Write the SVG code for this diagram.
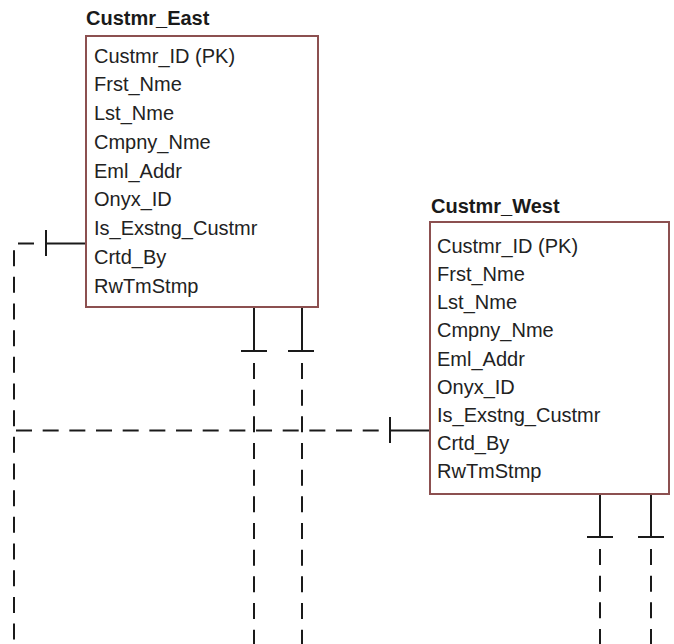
<svg xmlns="http://www.w3.org/2000/svg" width="674" height="644" viewBox="0 0 674 644">
<style>
.box{fill:#fff;stroke:#8c5050;stroke-width:2}
.title{font-family:"Liberation Sans",Arial,sans-serif;font-size:20px;font-weight:bold;fill:#1a1a1a}
.attr{font-family:"Liberation Sans",Arial,sans-serif;font-size:20px;fill:#222}
.solid{fill:none;stroke:#1a1a1a;stroke-width:2}
.dash{fill:none;stroke:#1a1a1a;stroke-width:2;stroke-dasharray:16 10.67}
</style>
<rect width="674" height="644" fill="#fff"/>
<g id="connectors">
  <!-- East left -> West left -->
  <path class="solid" d="M86,243.5 H46 M46,230 V256"/>
  <path class="dash" d="M34,243.5 H14 V644"/>
  <path class="dash" d="M16,430.5 H390"/>
  <path class="solid" d="M390,430.5 H430 M390,417 V443"/>
  <!-- East bottom -->
  <path class="solid" d="M254,307 V351 M241,351 H267"/>
  <path class="dash" d="M254,363 V644"/>
  <path class="solid" d="M302,307 V351 M288,351 H314"/>
  <path class="dash" d="M302,363 V644"/>
  <!-- West bottom -->
  <path class="solid" d="M600,494 V537 M587,537 H613"/>
  <path class="dash" d="M600,549 V644"/>
  <path class="solid" d="M651,494 V537 M638,537 H664"/>
  <path class="dash" d="M651,549 V644"/>
</g>
<g id="Custmr_East">
  <text class="title" x="86" y="25">Custmr_East</text>
  <rect class="box" x="86" y="36" width="232" height="271"/>
  <text class="attr" x="94" y="62.5">Custmr_ID (PK)</text>
  <text class="attr" x="94" y="91.3">Frst_Nme</text>
  <text class="attr" x="94" y="120">Lst_Nme</text>
  <text class="attr" x="94" y="148.8">Cmpny_Nme</text>
  <text class="attr" x="94" y="177.5">Eml_Addr</text>
  <text class="attr" x="94" y="206.3">Onyx_ID</text>
  <text class="attr" x="94" y="235">Is_Exstng_Custmr</text>
  <text class="attr" x="94" y="263.8">Crtd_By</text>
  <text class="attr" x="94" y="292.5">RwTmStmp</text>
</g>
<g id="Custmr_West">
  <text class="title" x="431" y="213">Custmr_West</text>
  <rect class="box" x="430" y="222" width="239" height="272"/>
  <text class="attr" x="437" y="252.7">Custmr_ID (PK)</text>
  <text class="attr" x="437" y="280.9">Frst_Nme</text>
  <text class="attr" x="437" y="309.1">Lst_Nme</text>
  <text class="attr" x="437" y="337.3">Cmpny_Nme</text>
  <text class="attr" x="437" y="365.5">Eml_Addr</text>
  <text class="attr" x="437" y="393.7">Onyx_ID</text>
  <text class="attr" x="437" y="421.9">Is_Exstng_Custmr</text>
  <text class="attr" x="437" y="450.1">Crtd_By</text>
  <text class="attr" x="437" y="478.3">RwTmStmp</text>
</g>
</svg>
